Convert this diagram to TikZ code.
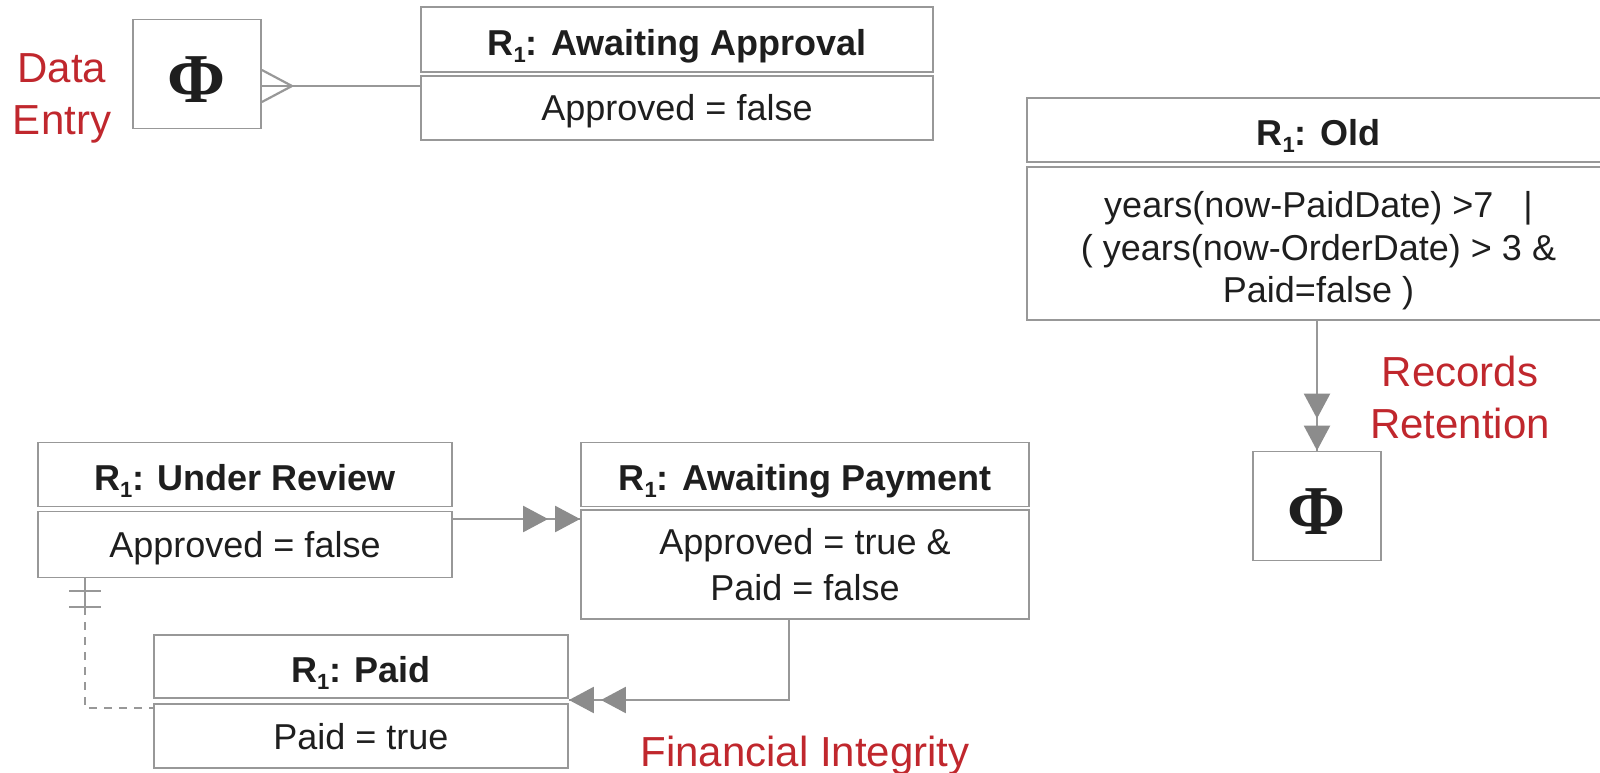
\documentclass[tikz,border=0pt]{standalone}
\usepackage{fontspec}
\setmainfont{Liberation Sans}
\newfontfamily\phifont{Liberation Serif}
\usetikzlibrary{arrows.meta,decorations.markings}
\definecolor{lg}{RGB}{152,152,152}
\definecolor{ag}{RGB}{140,140,140}
\definecolor{rd}{RGB}{192,39,45}
\definecolor{tx}{RGB}{30,30,30}
\newcommand{\rsub}{R\raisebox{-7pt}{\fontsize{22}{22}\selectfont 1}}
\begin{document}
\begin{tikzpicture}[x=1pt,y=-1pt,
  box/.style={draw=lg,line width=1.8pt,inner sep=0pt,text=tx,align=center,
    font=\fontsize{36}{45}\selectfont},
  hdr/.style={box,font=\fontsize{36}{45}\selectfont\bfseries,text height=32pt,text depth=0pt},
  body/.style={box,text height=30pt,text depth=4pt},
  phibox/.style={draw=lg,line width=1.8pt,inner sep=0pt,text=tx,
    minimum width=128pt,minimum height=109pt,font=\fontsize{70}{70}\selectfont\phifont\bfseries},
  redlbl/.style={text=rd,align=center,font=\fontsize{42}{52}\selectfont},
  conn/.style={draw=lg,line width=2.4pt},
  tri/.tip={Triangle[length=25pt,width=26pt]},
  dbl/.style={conn,decoration={markings,
      mark=at position -32pt with {\arrow[ag]{tri}},
      mark=at position 1 with {\arrow[ag]{tri}}},postaction=decorate},
]
\useasboundingbox (0,0) rectangle (1600,773);
\clip (0,0) rectangle (1600,773);

% top-left
\node[phibox] (phi1) at (197,74) {\raisebox{-6pt}[\height][\depth]{Φ}};
\node[redlbl] (de) at (62,98) {Data\\Entry};
\node[hdr,minimum width=512pt,minimum height=65pt] (aah) at (677,39.5) {\rsub: Awaiting Approval};
\node[body,minimum width=512pt,minimum height=64pt] (aab) at (677,108) {Approved = false};

% crow's foot connector
\coordinate (cf) at (292,86);
\draw[conn,line width=2.2pt] (phi1.east |- cf) -- (aab.west |- cf);
\draw[conn,line width=2.2pt] (phi1.east |- 0,70) -- (cf) -- (phi1.east |- 0,102);

% Old
\node[hdr,minimum width=583pt,minimum height=64pt] (oldh) at (1318.5,130) {\rsub: Old};
\node[box,minimum width=583pt,minimum height=153pt,font=\fontsize{36}{42.5}\selectfont] (oldb) at (1318.5,243.5)
  {\rule{0pt}{41pt}years(now-PaidDate) >7 \ \ |\\( years(now-OrderDate) > 3 \&\\Paid=false )};
\node[phibox] (phi2) at (1317,506) {\raisebox{-6pt}[\height][\depth]{Φ}};
\draw[dbl] (oldb.south -| phi2.north) -- (phi2.north);
\node[redlbl,text width=220pt] (rr) at (1460,397) {Records\\Retention};

% Under review
\node[hdr,minimum width=414pt,minimum height=64pt] (urh) at (245,474.5) {\rsub: Under Review};
\node[body,minimum width=414pt,minimum height=66pt] (urb) at (245,544.5) {Approved = false};

% Awaiting payment
\node[hdr,minimum width=448pt,minimum height=64pt] (aph) at (805,474.5) {\rsub: Awaiting Payment};
\node[box,minimum width=448pt,minimum height=109pt,font=\fontsize{36}{46}\selectfont] (apb) at (805,564.5)
  {Approved = true \&\\Paid = false};

% Paid
\node[hdr,minimum width=414pt,minimum height=63pt] (pdh) at (361,666.5) {\rsub: Paid};
\node[body,minimum width=414pt,minimum height=64pt] (pdb) at (361,736) {Paid = true};

\node[redlbl] (fi) at (805,756) {Financial Integrity};

% connectors
\draw[dbl] (urb.east |- 0,519) -- (apb.west |- 0,519);
\draw[dbl] (apb.south -| 789,0) |- (pdh.east |- 0,700);

% dashed one-to-one connector
\coordinate (db) at (85,607);
\draw[conn,line width=2pt] (urb.south -| db) -- (db);
\draw[conn,line width=2pt] (69,591) -- (101,591);
\draw[conn,line width=2pt] (69,607) -- (101,607);
\draw[conn,line width=2pt,dash pattern=on 8pt off 7pt] (db) |- (pdb.west |- 0,708);
\end{tikzpicture}
\end{document}
